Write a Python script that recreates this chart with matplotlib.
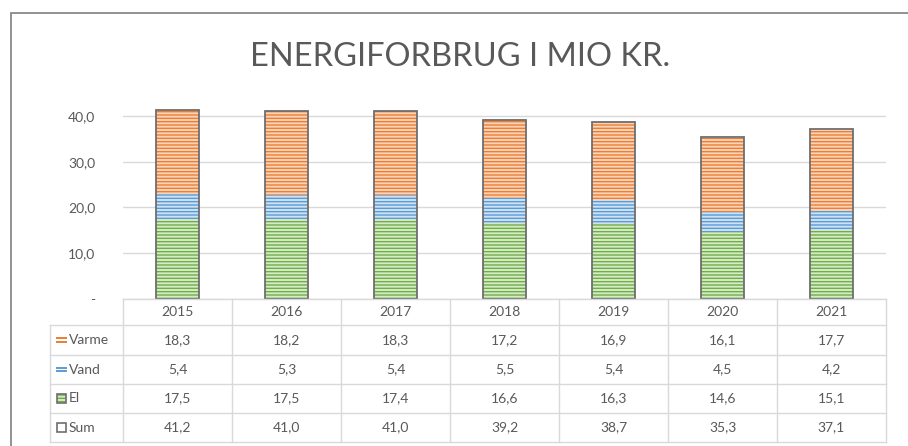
import matplotlib.pyplot as plt
from matplotlib.patches import Rectangle
import numpy as np

plt.rcParams['font.family'] = ['Lato', 'DejaVu Sans']
plt.rcParams['hatch.linewidth'] = 1.0

years = ['2015', '2016', '2017', '2018', '2019', '2020', '2021']
varme = [18.3, 18.2, 18.3, 17.2, 16.9, 16.1, 17.7]
vand = [5.4, 5.3, 5.4, 5.5, 5.4, 4.5, 4.2]
el = [17.5, 17.5, 17.4, 16.6, 16.3, 14.6, 15.1]
total = [41.2, 41.0, 41.0, 39.2, 38.7, 35.3, 37.1]

series_names = ['Varme', 'Vand', 'El', 'Sum']
line_colors = {'Varme': '#ED7D31', 'Vand': '#5B9BD5', 'El': '#70AD47'}
fill_colors = {'Varme': '#FAD3BA', 'Vand': '#CFE1F3', 'El': '#D6EAC8'}
text_color = '#595959'
grid_color = '#D9D9D9'

W, H = 908, 446
fig = plt.figure(figsize=(W / 100, H / 100), dpi=100)


def fx(px):
    return px / W


def fy(py):
    return 1 - py / H


# outer chart border (cropped on right/bottom in the original)
fig.add_artist(Rectangle((fx(11), fy(470)), fx(960), fy(13) - fy(470),
                         transform=fig.transFigure, fill=False,
                         edgecolor='#7F7F7F', linewidth=1.2))

fig.text(fx(460), fy(66), 'ENERGIFORBRUG I MIO KR.', ha='center', va='baseline',
         fontsize=23.5, color=text_color)

# main plot area
ax_left, ax_right = 123, 886
ax_top, ax_bottom = 93, 299
ax = fig.add_axes([fx(ax_left), fy(ax_bottom), fx(ax_right - ax_left), fy(ax_top) - fy(ax_bottom)])
x = np.arange(len(years))
width = 0.4

bottom = np.zeros(len(years))
for name, vals in [('El', el), ('Vand', vand), ('Varme', varme)]:
    ax.bar(x, vals, width, bottom=bottom, color=fill_colors[name],
           edgecolor=line_colors[name], hatch='-----', linewidth=0, zorder=2)
    bottom += np.array(vals)

# Sum series drawn as outline only
ax.bar(x, total, width, fill=False, edgecolor='#6E6E6E', linewidth=1.3, zorder=3)

ax.set_xlim(-0.5, len(years) - 0.5)
ax.set_ylim(0, 45)
ax.set_yticks([0, 10, 20, 30, 40])
ax.set_yticklabels(['-', '10,0', '20,0', '30,0', '40,0'])
ax.set_xticks([])
ax.tick_params(axis='y', length=0, pad=20, labelsize=10, labelcolor=text_color)
ax.grid(axis='y', color=grid_color, linewidth=1, zorder=0)
for s in ax.spines.values():
    s.set_visible(False)

# data table below the plot
row_edges = [299, 325, 355, 384, 413, 442]
tax = fig.add_axes([fx(ax_left), fy(row_edges[-1]), fx(ax_right - ax_left),
                    fy(row_edges[0]) - fy(row_edges[-1])])
tax.set_xlim(-0.5, len(years) - 0.5)
tax.set_ylim(row_edges[-1], row_edges[0])
tax.axis('off')

label_left = -0.5 - (ax_left - 50) / ((ax_right - ax_left) / len(years))
col_w = 1.0 / ((ax_right - ax_left) / len(years))  # data units per pixel

# horizontal lines
tax.plot([-0.5, 6.5], [row_edges[0]] * 2, color=grid_color, lw=1, clip_on=False)
for r in row_edges[1:]:
    tax.plot([label_left, 6.5], [r, r], color=grid_color, lw=1, clip_on=False)
# vertical lines
for c in np.arange(-0.5, len(years)):
    tax.plot([c, c], [row_edges[0], row_edges[-1]], color=grid_color, lw=1, clip_on=False)
tax.plot([label_left, label_left], [row_edges[1], row_edges[-1]], color=grid_color, lw=1, clip_on=False)

for i, yr in enumerate(years):
    tax.text(i, (row_edges[0] + row_edges[1]) / 2, yr, ha='center', va='center',
             fontsize=10, color=text_color)

rows = [varme, vand, el, total]
for r, (name, vals) in enumerate(zip(series_names, rows)):
    yc = (row_edges[r + 1] + row_edges[r + 2]) / 2
    for i, v in enumerate(vals):
        tax.text(i, yc, f'{v:.1f}'.replace('.', ','), ha='center', va='center',
                 fontsize=10, color=text_color)
    # legend key
    kx = label_left + 7 * col_w
    kw = 9 * col_w
    if name in ('Varme', 'Vand'):
        for dy in (-1.8, 1.8):
            tax.plot([kx, kx + kw], [yc + dy, yc + dy], color=line_colors[name],
                     lw=1.4, clip_on=False)
    elif name == 'El':
        tax.add_patch(Rectangle((kx, yc - 4.5), kw, 9, facecolor=fill_colors[name],
                                edgecolor=line_colors[name], hatch='-----', lw=0,
                                clip_on=False))
        tax.add_patch(Rectangle((kx, yc - 4.5), kw, 9, fill=False,
                                edgecolor='#6E6E6E', lw=1.2, clip_on=False))
    else:
        tax.add_patch(Rectangle((kx, yc - 4.5), kw, 9, fill=False,
                                edgecolor='#6E6E6E', lw=1.2, clip_on=False))
    tax.text(kx + kw + 3 * col_w, yc, name, ha='left', va='center',
             fontsize=10, color=text_color)

fig.savefig('out.png', dpi=100)
